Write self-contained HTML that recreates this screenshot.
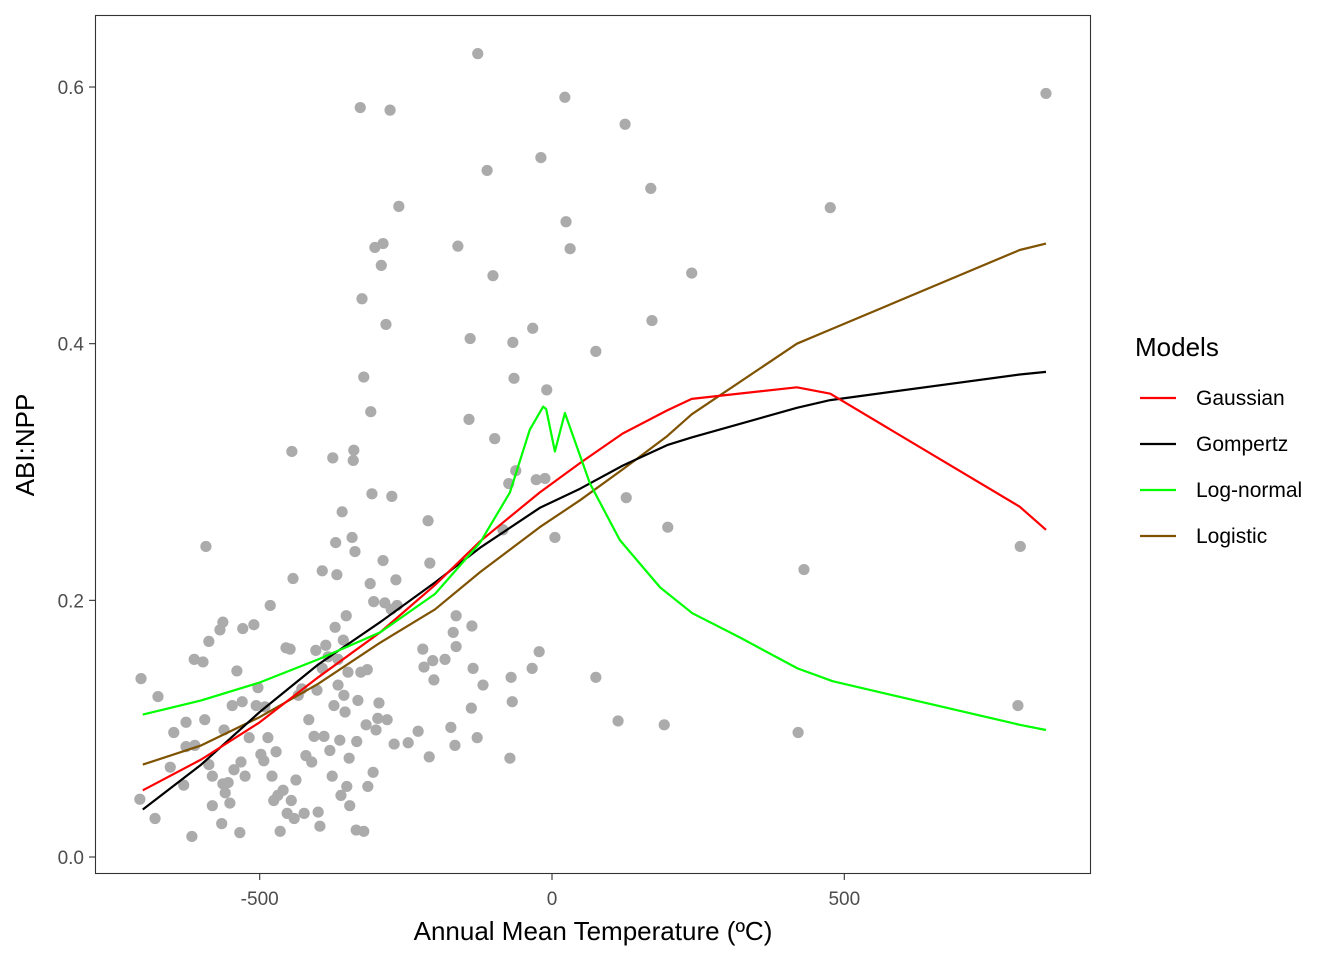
<!DOCTYPE html>
<html><head><meta charset="utf-8"><style>
body{margin:0;background:#fff;}
svg{display:block;font-family:"Liberation Sans",Arial,sans-serif;}
</style></head><body>
<svg id="chart" width="1344" height="960">
<rect x="0" y="0" width="1344" height="960" fill="#fff"/>
<rect x="95.5" y="15.5" width="995" height="858" fill="#fff" stroke="#333" stroke-width="1.1"/>
<g id="points"></g>
<g id="lines"></g>
<g id="xticks"></g>
<g id="yticks"></g>
<text x="593" y="940" text-anchor="middle" font-size="26" fill="#000">Annual Mean Temperature (ºC)</text>
<text transform="translate(34,445) rotate(-90)" text-anchor="middle" font-size="26" fill="#000">ABI:NPP</text>
<g>
<text x="1135" y="356" font-size="26" fill="#000">Models</text>
<g><line x1="1140" y1="398" x2="1176" y2="398" stroke="#ff0000" stroke-width="2.2"/><text x="1196" y="405" font-size="21">Gaussian</text></g>
<g><line x1="1140" y1="444" x2="1176" y2="444" stroke="#000" stroke-width="2.2"/><text x="1196" y="451" font-size="21">Gompertz</text></g>
<g><line x1="1140" y1="490" x2="1176" y2="490" stroke="#00ff00" stroke-width="2.2"/><text x="1196" y="497" font-size="21">Log-normal</text></g>
<g><line x1="1140" y1="536" x2="1176" y2="536" stroke="#7f5200" stroke-width="2.2"/><text x="1196" y="543" font-size="21">Logistic</text></g>
</g>
</svg>
<script>
const ptX=[-703,-705,-679,-674,-653,-647,-630,-626,-626,-616,-612,-611,-597,-592,-594,-587,-587,-581,-581,-568,-565,-563,-563,-561,-559,-554,-551,-547,-544,-539,-534,-532,-529,-530,-525,-518,-510,-506,-503,-498,-493,-491,-486,-482,-479,-476,-472,-469,-465,-460,-455,-453,-448,-446,-445,-443,-441,-438,-434,-428,-424,-421,-416,-411,-407,-404,-402,-400,-397,-393,-393,-390,-387,-383,-380,-376,-375,-373,-371,-370,-368,-366,-366,-363,-361,-359,-357,-356,-354,-352,-351,-349,-347,-346,-342,-340,-339,-337,-335,-334,-332,-328,-327,-325,-322,-322,-318,-316,-315,-311,-310,-308,-306,-305,-303,-301,-298,-296,-292,-289,-289,-286,-284,-282,-277,-275,-274,-270,-267,-265,-262,-246,-229,-221,-219,-212,-210,-209,-204,-202,-183,-173,-169,-166,-164,-164,-161,-142,-140,-138,-137,-135,-128,-127,-118,-111,-101,-98,-84,-74,-72,-70,-68,-67,-65,-62,-34,-33,-27,-22,-19,-12,-9,5,22,24,31,75,75,113,125,127,169,171,192,198,239,421,431,476,797,801,845];
const ptY=[0.139,0.045,0.030,0.125,0.070,0.097,0.056,0.105,0.086,0.016,0.154,0.087,0.152,0.242,0.107,0.168,0.072,0.063,0.040,0.177,0.026,0.183,0.057,0.099,0.050,0.058,0.042,0.118,0.068,0.145,0.019,0.074,0.178,0.121,0.063,0.093,0.181,0.118,0.132,0.080,0.075,0.117,0.093,0.196,0.063,0.044,0.082,0.048,0.020,0.052,0.163,0.034,0.162,0.044,0.316,0.217,0.030,0.060,0.126,0.131,0.034,0.079,0.107,0.074,0.094,0.161,0.130,0.035,0.024,0.147,0.223,0.094,0.165,0.156,0.083,0.063,0.311,0.118,0.179,0.245,0.220,0.154,0.134,0.091,0.048,0.269,0.169,0.126,0.113,0.188,0.055,0.144,0.077,0.040,0.249,0.309,0.317,0.238,0.021,0.090,0.122,0.584,0.144,0.435,0.374,0.020,0.103,0.146,0.055,0.213,0.347,0.283,0.066,0.199,0.475,0.099,0.108,0.120,0.461,0.478,0.231,0.198,0.415,0.107,0.582,0.193,0.281,0.088,0.216,0.196,0.507,0.089,0.098,0.162,0.148,0.262,0.078,0.229,0.153,0.138,0.154,0.101,0.175,0.087,0.188,0.164,0.476,0.341,0.404,0.116,0.180,0.147,0.093,0.626,0.134,0.535,0.453,0.326,0.255,0.291,0.077,0.140,0.121,0.401,0.373,0.301,0.147,0.412,0.294,0.160,0.545,0.295,0.364,0.249,0.592,0.495,0.474,0.394,0.140,0.106,0.571,0.280,0.521,0.418,0.103,0.257,0.455,0.097,0.224,0.506,0.118,0.242,0.595];
const curveX=[-700,-600,-500,-400,-294,-200,-123,-21,48,121,197,239,419,476,800,845];
const gaussY=[0.052,0.076,0.105,0.140,0.175,0.212,0.246,0.284,0.307,0.330,0.348,0.357,0.366,0.361,0.273,0.255];
const gompY=[0.037,0.072,0.113,0.150,0.183,0.214,0.241,0.272,0.287,0.305,0.321,0.327,0.350,0.356,0.376,0.378];
const logisY=[0.072,0.087,0.109,0.135,0.167,0.193,0.222,0.257,0.278,0.302,0.328,0.345,0.400,0.411,0.473,0.478];
const lnX=[-700,-600,-500,-400,-294,-200,-123,-72,-38,-15,-10,5,22,65,116,185,240,322,420,480,800,845];
const lnY=[0.111,0.122,0.136,0.154,0.175,0.205,0.245,0.284,0.333,0.351,0.349,0.316,0.346,0.291,0.247,0.210,0.190,0.171,0.147,0.137,0.103,0.099];
const xTicks=[-500,0,500];
const yTicks=[0,0.2,0.4,0.6];
const yTickLabels=["0.0","0.2","0.4","0.6"];

const sx=v=>552+v*0.5846;
const sy=v=>857-v*1283.3;
const NS="http://www.w3.org/2000/svg";
function mk(t,a,p){const e=document.createElementNS(NS,t);for(const k in a)e.setAttribute(k,a[k]);p.appendChild(e);return e;}
const gp=document.getElementById('points');
ptX.forEach((x,i)=>{const c=mk('circle',{cx:sx(x),cy:sy(ptY[i]),r:5.6,fill:'#ababab'},gp);

});
const gl=document.getElementById('lines');
function line(xs,ys,col,name){
  const d=xs.map((x,i)=>(i?'L':'M')+sx(x).toFixed(1)+','+sy(ys[i]).toFixed(1)).join('');
  const p=mk('path',{d:d,fill:'none',stroke:col,'stroke-width':2.2,'stroke-linejoin':'round'},gl);
  
  }
line(curveX,logisY,'#7f5200','logistic-curve');
line(curveX,gompY,'#000000','gompertz-curve');
line(curveX,gaussY,'#ff0000','gaussian-curve');
line(lnX,lnY,'#00ff00','lognormal-curve');
const gx=document.getElementById('xticks');
xTicks.forEach(v=>{mk('line',{x1:sx(v),x2:sx(v),y1:874,y2:880,stroke:'#333','stroke-width':1.1},gx);
const t=mk('text',{x:sx(v),y:905,'text-anchor':'middle','font-size':19,fill:'#4d4d4d'},gx);t.textContent=v;

});
const gy=document.getElementById('yticks');
yTicks.forEach((v,i)=>{mk('line',{x1:89,x2:95,y1:sy(v),y2:sy(v),stroke:'#333','stroke-width':1.1},gy);
const t=mk('text',{x:84,y:sy(v)+7,'text-anchor':'end','font-size':19,fill:'#4d4d4d'},gy);t.textContent=yTickLabels[i];

});
</script>
</body></html>
